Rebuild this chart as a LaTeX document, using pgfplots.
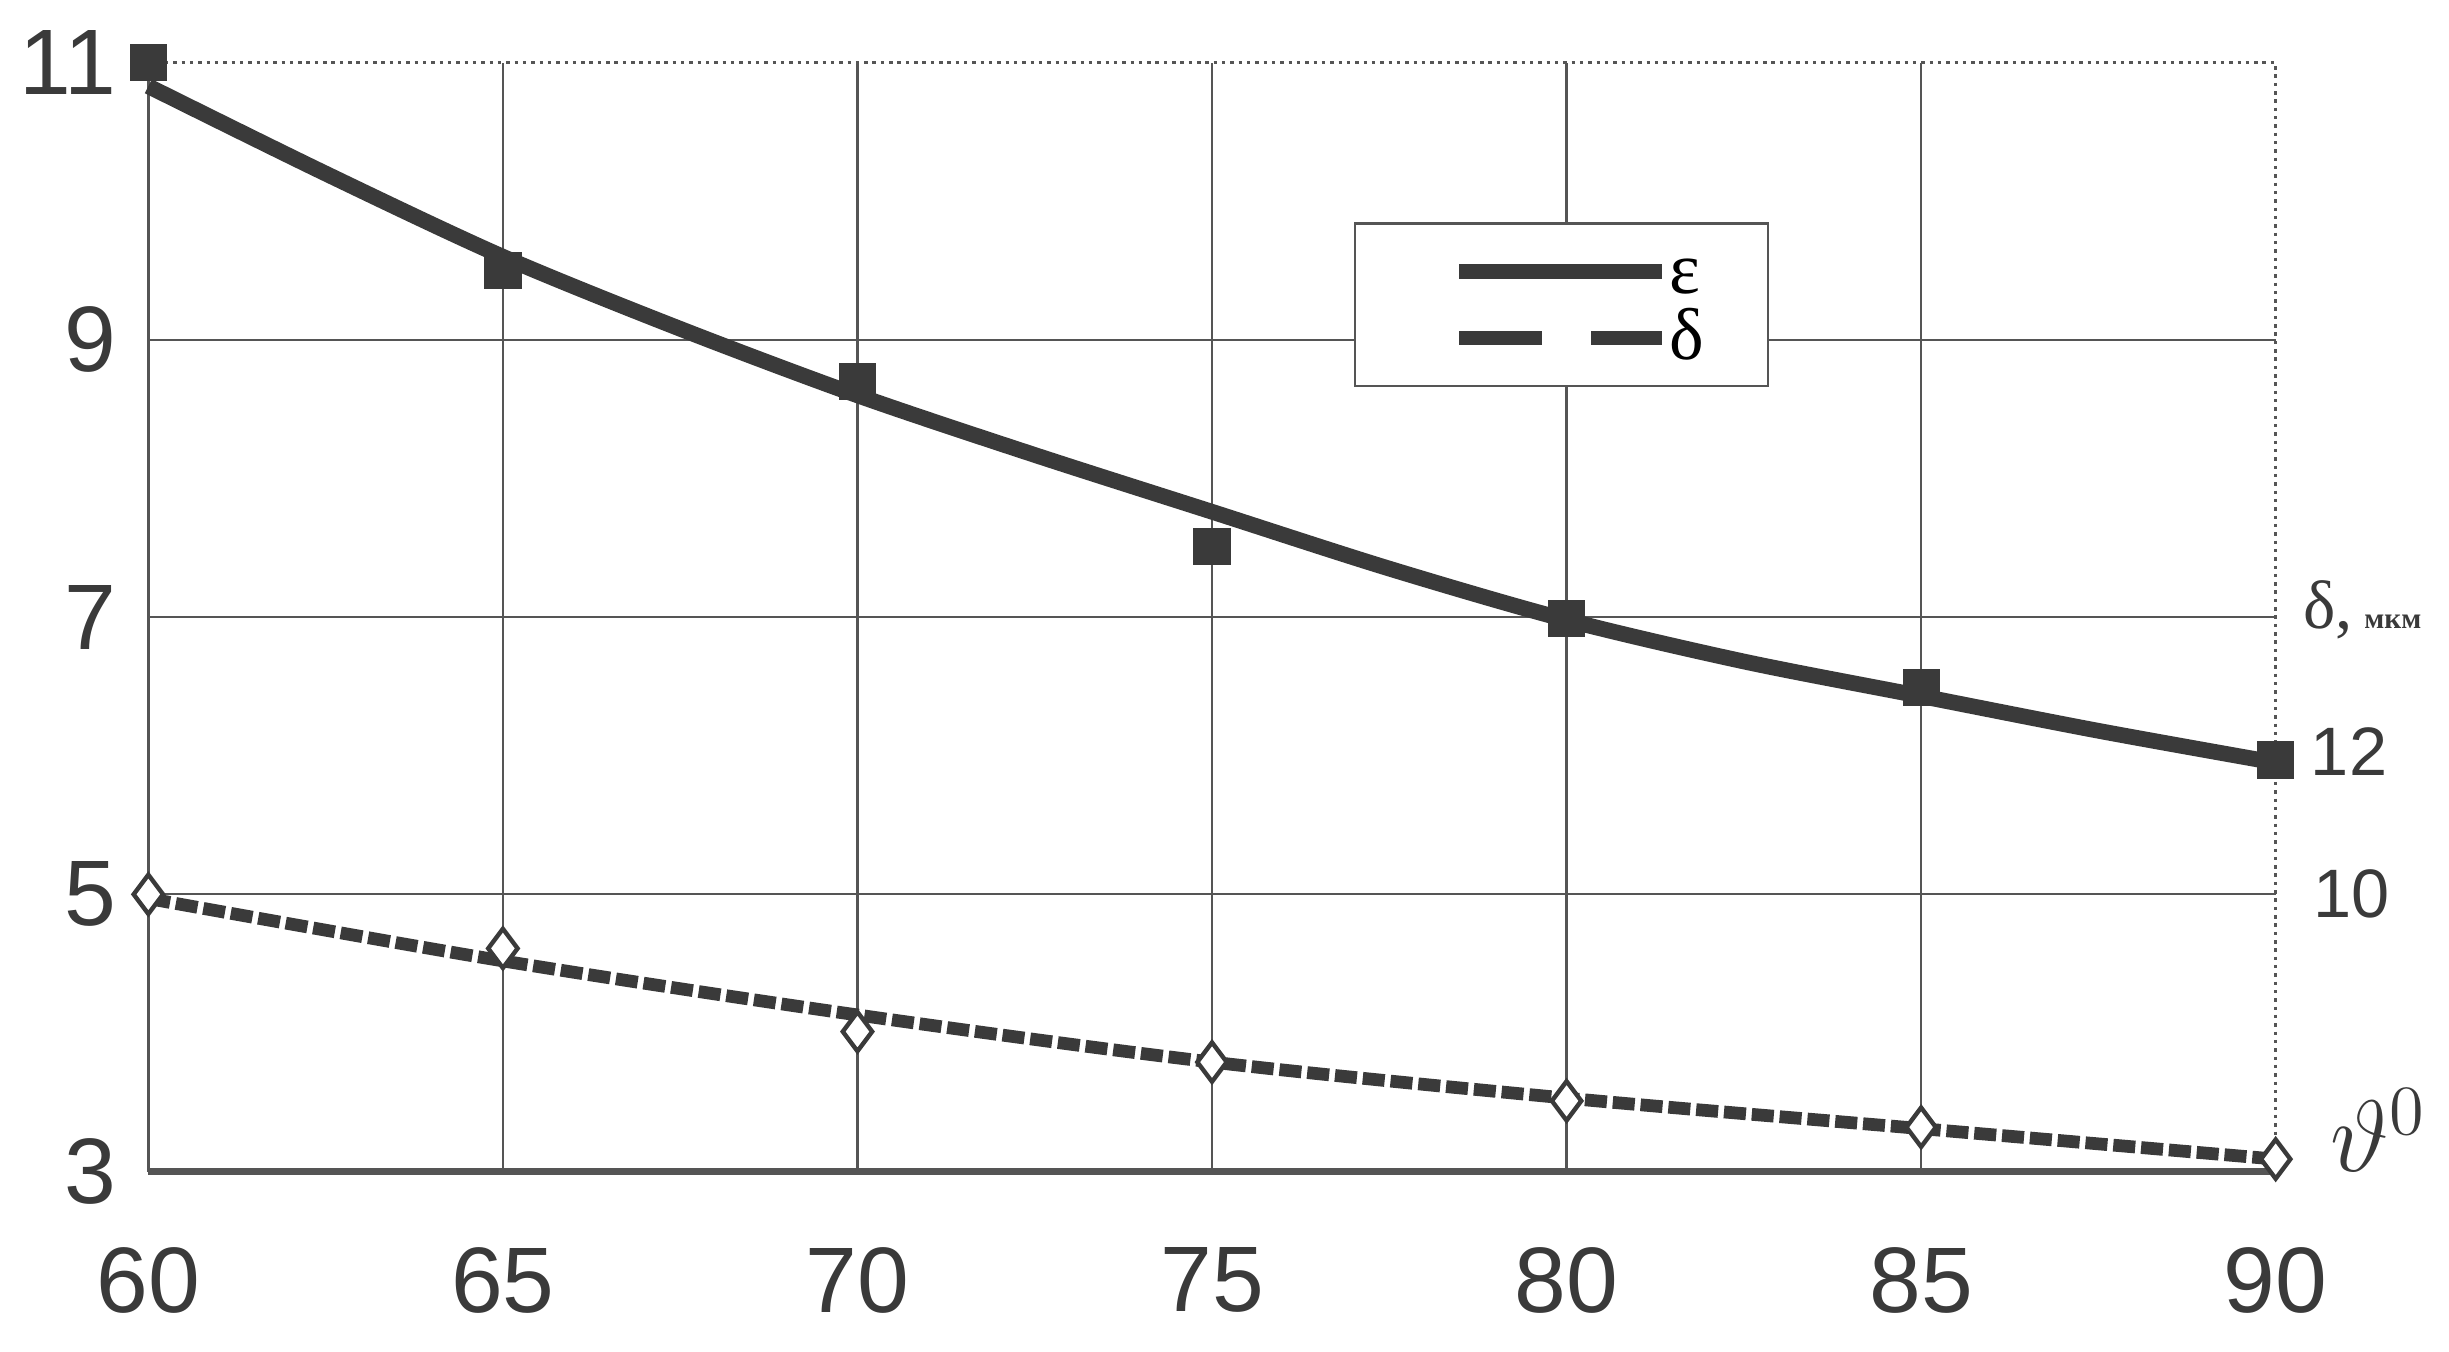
\documentclass[border=0pt]{standalone}
\usepackage{fontspec}
\setmainfont{Liberation Sans}
\newfontfamily\serif{Liberation Serif}
\usepackage{pgfplots}
\pgfplotsset{compat=1.18}
\definecolor{ink}{HTML}{3A3A3A}
\definecolor{gridc}{HTML}{555555}
\begin{document}
\begin{tikzpicture}
\begin{axis}[
  scale only axis, width=434.5pt, height=226.5pt,
  xmin=60, xmax=90, ymin=3, ymax=11,
  xtick={60,65,...,85}, ytick={3,5,7,9},
  extra x ticks={90}, extra y ticks={11},
  extra tick style={grid=none},
  axis lines=left,
  axis line style={-, gridc, line width=0.7pt},
  x axis line style={line width=1.3pt},
  major tick length=0pt,
  grid=major, major grid style={gridc, line width=0.45pt},
  tick label style={font=\fontsize{19}{19}\selectfont, text=ink},
  /pgf/number format/assume math mode=true,
  xticklabel style={yshift=-12pt},
  yticklabel style={xshift=-3pt},
  clip=false,
  legend style={at={(axis cs:77,9.85)}, anchor=north west, draw=gridc, line width=0.5pt,
    font=\serif\fontsize{15}{15}\selectfont, inner xsep=0pt, inner ysep=4.3pt,
    row sep=2.6pt,
    nodes={inner ysep=0pt, inner xsep=0pt, text height=10pt, text depth=1pt},
    /tikz/every even column/.style={column sep=1pt}},
  legend cell align=left,
]
\draw[gridc, densely dotted, line width=0.7pt] (axis cs:60,11) -- (axis cs:90,11) -- (axis cs:90,3);
\addlegendimage{legend image code/.code={\path (-21pt,0pt); \draw[ink, line width=3pt] (0pt,0pt) -- (41.5pt,0pt);}}
\addlegendentry{ε\rule{13pt}{0pt}}
\addlegendimage{legend image code/.code={\path (-21pt,0pt); \draw[ink, line width=3pt, dash pattern=on 17pt off 10pt on 14.5pt] (0pt,0pt) -- (41.5pt,0pt);}}
\addlegendentry{δ\rule{13pt}{0pt}}
\addplot[ink, line width=3.2pt, smooth, forget plot] coordinates {(60,10.83)(62.5,10.2)(65,9.6)(67.5,9.08)(70,8.6)(72.5,8.17)(75,7.76)(77.5,7.35)(80,6.98)(82.5,6.68)(85,6.43)(87.5,6.18)(90,5.95)};
\addplot[only marks, mark=square*, mark size=3.6pt, ink, forget plot] coordinates {(60,11)(65,9.5)(70,8.7)(75,7.51)(80,6.99)(85,6.49)(90,5.97)};
\addplot[ink, line width=2.6pt, dash pattern=on 4.5pt off 1.2pt, smooth, forget plot] coordinates {(60,4.97)(65,4.52)(70,4.13)(75,3.79)(80,3.53)(85,3.31)(90,3.09)};
\addplot[only marks, mark=diamond*, mark size=4pt, draw=ink, fill=white, line width=0.9pt, forget plot] coordinates {(60,5)(65,4.61)(70,4.01)(75,3.79)(80,3.51)(85,3.32)(90,3.09)};
\node[anchor=west, inner sep=0pt, xshift=7pt, text=ink, font=\fontsize{14}{14}\selectfont] at (axis cs:90,6.03) {12};
\node[anchor=west, inner sep=0pt, xshift=7.5pt, text=ink, font=\fontsize{14}{14}\selectfont] at (axis cs:90,5) {10};
\node[anchor=west, inner sep=0pt, xshift=5.5pt, text=ink] at (axis cs:90,7.05) {\serif\fontsize{14}{14}\selectfont δ,\,{\fontsize{6}{6}\selectfont\bfseries мкм}};
\node[anchor=west, inner sep=0pt, xshift=11pt, text=ink] at (axis cs:90,3.3) {\fontsize{20}{20}\selectfont$\vartheta^{0}$};
\end{axis}
\pgfresetboundingbox
\path[use as bounding box] ([xshift=-30.3pt, yshift=-36.7pt]current axis.south west) rectangle ([xshift=35.4pt, yshift=12.8pt]current axis.north east);
\end{tikzpicture}
\end{document}
